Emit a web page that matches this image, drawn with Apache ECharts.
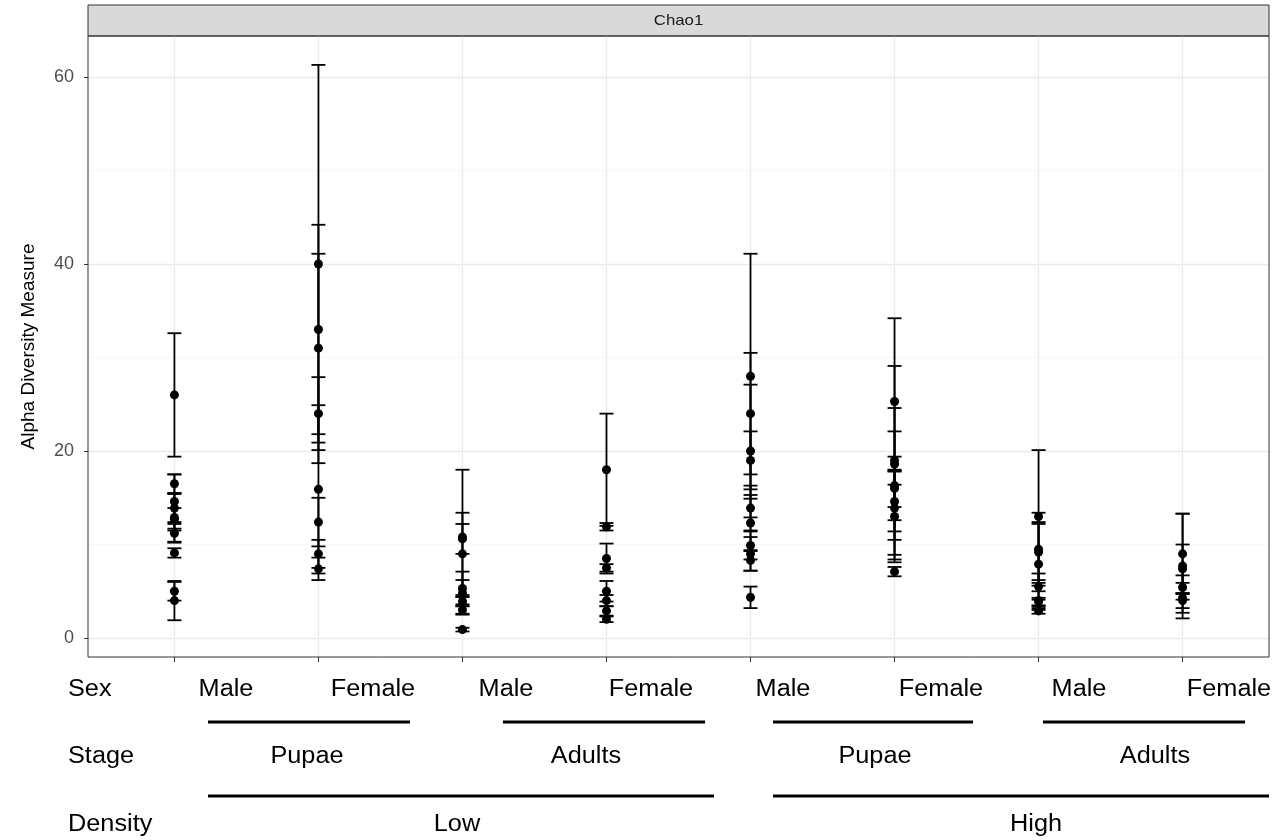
<!DOCTYPE html>
<html>
<head>
<meta charset="utf-8">
<script src="https://cdn.jsdelivr.net/npm/echarts@6/dist/echarts.min.js"></script>
<style>html,body{margin:0;padding:0;background:#fff}#c{width:1276px;height:840px}</style>
</head>
<body>
<div id="c"></div>
<script>
// ---- data (Chao1 estimate and its standard error per sample) ----
const categories = ['Low.Pupae.Male','Low.Pupae.Female','Low.Adults.Male','Low.Adults.Female',
                    'High.Pupae.Male','High.Pupae.Female','High.Adults.Male','High.Adults.Female'];
const lowPupaeMale      = [26.0, 16.5, 14.6, 13.9, 12.9, 12.7, 11.2, 9.1, 5.0, 4.0];
const lowPupaeMaleSE    = [6.6, 1.0, 2.9, 1.5, 2.6, 1.2, 1.0, 0.5, 1.0, 2.1];
const lowPupaeFemale    = [40.0, 33.0, 31.0, 24.0, 15.9, 12.4, 9.0, 7.4];
const lowPupaeFemaleSE  = [21.3, 11.2, 10.1, 3.9, 9.0, 2.6, 1.5, 1.2];
const lowAdultsMale     = [10.8, 10.6, 9.0, 5.3, 4.8, 3.9, 3.0, 0.9];
const lowAdultsMaleSE   = [7.2, 1.6, 4.4, 0.9, 2.3, 0.5, 0.4, 0.2];
const lowAdultsFemale   = [18.0, 11.9, 8.5, 7.5, 5.0, 4.0, 2.9, 2.0];
const lowAdultsFemaleSE = [6.0, 0.4, 1.6, 0.4, 1.1, 0.6, 0.5, 0.3];
const highPupaeMale     = [28.0, 24.0, 20.0, 19.0, 13.9, 12.3, 9.9, 9.0, 8.3, 4.35];
const highPupaeMaleSE   = [13.1, 6.5, 7.1, 3.1, 2.4, 3.0, 1.5, 1.8, 1.1, 1.15];
const highPupaeFemale   = [25.3, 19.0, 18.6, 16.3, 16.0, 14.6, 13.9, 13.0, 7.1];
const highPupaeFemaleSE = [8.9, 10.1, 6.0, 5.8, 2.0, 3.2, 5.5, 4.9, 0.5];
const highAdultsMale    = [13.0, 9.5, 9.2, 7.9, 5.5, 4.0, 3.9, 2.9];
const highAdultsMaleSE  = [7.1, 3.9, 3.0, 4.5, 1.4, 1.0, 0.4, 0.3];
const highAdultsFemale  = [9.0, 7.7, 7.4, 5.4, 4.3, 4.0];
const highAdultsFemaleSE= [4.3, 5.6, 2.6, 1.3, 1.6, 0.8];
const yTicks = [0, 20, 40, 60];
const yMinorTicks = [10, 30, 50];
const panelTitle = 'Chao1';
const yTitle = 'Alpha Diversity Measure';
const sexLabels = ['Male','Female','Male','Female','Male','Female','Male','Female'];
const stageLabels = ['Pupae','Adults','Pupae','Adults'];
const densityLabels = ['Low','High'];

const groupVals = [lowPupaeMale, lowPupaeFemale, lowAdultsMale, lowAdultsFemale,
                   highPupaeMale, highPupaeFemale, highAdultsMale, highAdultsFemale];
const groupSE = [lowPupaeMaleSE, lowPupaeFemaleSE, lowAdultsMaleSE, lowAdultsFemaleSE,
                 highPupaeMaleSE, highPupaeFemaleSE, highAdultsMaleSE, highAdultsFemaleSE];
const pts = [];
groupVals.forEach((arr, gi) => arr.forEach((v, k) => pts.push([gi + 1, v, groupSE[gi][k]])));
const xTickVals = categories.map((c, i) => i + 1);

const chart = echarts.init(document.getElementById('c'), null, {renderer: 'canvas'});

const L = 88, T = 36, R = 1269, B = 657;
const txtFont = '"Liberation Sans", Arial, sans-serif';
function bigText(str, cx, cy) {
  return {type: 'text', x: cx, y: cy, scaleX: 1.1, silent: true,
    style: {text: str, x: 0, y: 0, align: 'center', verticalAlign: 'middle',
      font: '23px ' + txtFont, fill: '#000'}};
}
function leftText(str, lx, cy) {
  return {type: 'text', x: lx, y: cy, scaleX: 1.1, silent: true,
    style: {text: str, x: 0, y: 0, align: 'left', verticalAlign: 'middle',
      font: '23px ' + txtFont, fill: '#000'}};
}
function hline(x1, x2, y) {
  return {type: 'line', silent: true, shape: {x1: x1, y1: y, x2: x2, y2: y},
    style: {stroke: '#000', lineWidth: 3}};
}
const sexX = [226, 373, 506, 651, 783, 941, 1079, 1229];
const stageX = [307, 586, 875, 1155];
const densX = [457, 1036];
const graphics = [
  {type: 'rect', silent: true, shape: {x: L, y: 5, width: R - L, height: T - 5},
    style: {fill: '#d9d9d9', stroke: '#333', lineWidth: 1}},
  {type: 'text', x: (L + R) / 2, y: 21, scaleX: 1.12, silent: true,
    style: {text: panelTitle, x: 0, y: 0, align: 'center', verticalAlign: 'middle',
      font: '15px ' + txtFont, fill: '#1a1a1a'}},
  {type: 'rect', silent: true, z: 100, shape: {x: L, y: T, width: R - L, height: B - T},
    style: {fill: 'none', stroke: '#333', lineWidth: 1}},
  leftText('Sex', 68, 690), leftText('Stage', 68, 757), leftText('Density', 68, 825),
  hline(208, 410, 722), hline(503, 705, 722), hline(773, 973, 722), hline(1043, 1245, 722),
  hline(208, 714, 796), hline(773, 1269, 796)
];
sexLabels.forEach((s, i) => graphics.push(bigText(s, sexX[i], 690)));
stageLabels.forEach((s, i) => graphics.push(bigText(s, stageX[i], 757)));
densityLabels.forEach((s, i) => graphics.push(bigText(s, densX[i], 825)));

const option = {
  animation: false,
  backgroundColor: '#fff',
  grid: {left: L, top: T, width: R - L, height: B - T, containLabel: false, outerBoundsMode: 'none'},
  xAxis: {
    type: 'value', min: 0.4, max: 8.6, position: 'bottom',
    axisLine: {show: false, onZero: false},
    axisTick: {show: true, length: 5, customValues: xTickVals, lineStyle: {color: '#333', width: 1}},
    axisLabel: {show: false},
    splitLine: {show: true, lineStyle: {color: '#ebebeb', width: 1.4}}
  },
  yAxis: [{
    type: 'value', min: -2.03, max: 64.39,
    name: yTitle, nameLocation: 'middle', nameGap: 50, nameRotate: 90,
    nameTextStyle: {fontFamily: txtFont, fontSize: 19, color: '#000'},
    axisLine: {show: false, onZero: false},
    axisTick: {show: true, length: 4, customValues: yTicks, lineStyle: {color: '#333', width: 1}},
    axisLabel: {show: true, customValues: yTicks, margin: 14, fontSize: 18,
      fontFamily: txtFont, color: '#4d4d4d'},
    splitLine: {show: true, lineStyle: {color: '#ebebeb', width: 1.4}}
  }, {
    type: 'value', min: -2.03, max: 64.39, position: 'left',
    axisLine: {show: false, onZero: false},
    axisTick: {show: false, customValues: yMinorTicks},
    axisLabel: {show: false},
    splitLine: {show: true, lineStyle: {color: '#f5f5f5', width: 0.8}}
  }],
  series: [{
    type: 'custom', xAxisIndex: 0, yAxisIndex: 0, data: pts, z: 3,
    encode: {x: 0, y: 1},
    renderItem: function (params, api) {
      const x = api.value(0), y = api.value(1), s = api.value(2);
      const top = api.coord([x, y + s]);
      const bot = api.coord([x, y - s]);
      const hw = 7;
      const st = {stroke: '#000', lineWidth: 1.8};
      return {type: 'group', children: [
        {type: 'line', shape: {x1: top[0], y1: top[1], x2: bot[0], y2: bot[1]}, style: st},
        {type: 'line', shape: {x1: top[0] - hw, y1: top[1], x2: top[0] + hw, y2: top[1]}, style: st},
        {type: 'line', shape: {x1: bot[0] - hw, y1: bot[1], x2: bot[0] + hw, y2: bot[1]}, style: st}
      ]};
    }
  }, {
    type: 'scatter', xAxisIndex: 0, yAxisIndex: 0, z: 4,
    data: pts.map(p => [p[0], p[1]]),
    symbol: 'circle', symbolSize: 9,
    itemStyle: {color: '#000', opacity: 1}
  }],
  graphic: graphics
};
chart.setOption(option);
</script>
</body>
</html>
